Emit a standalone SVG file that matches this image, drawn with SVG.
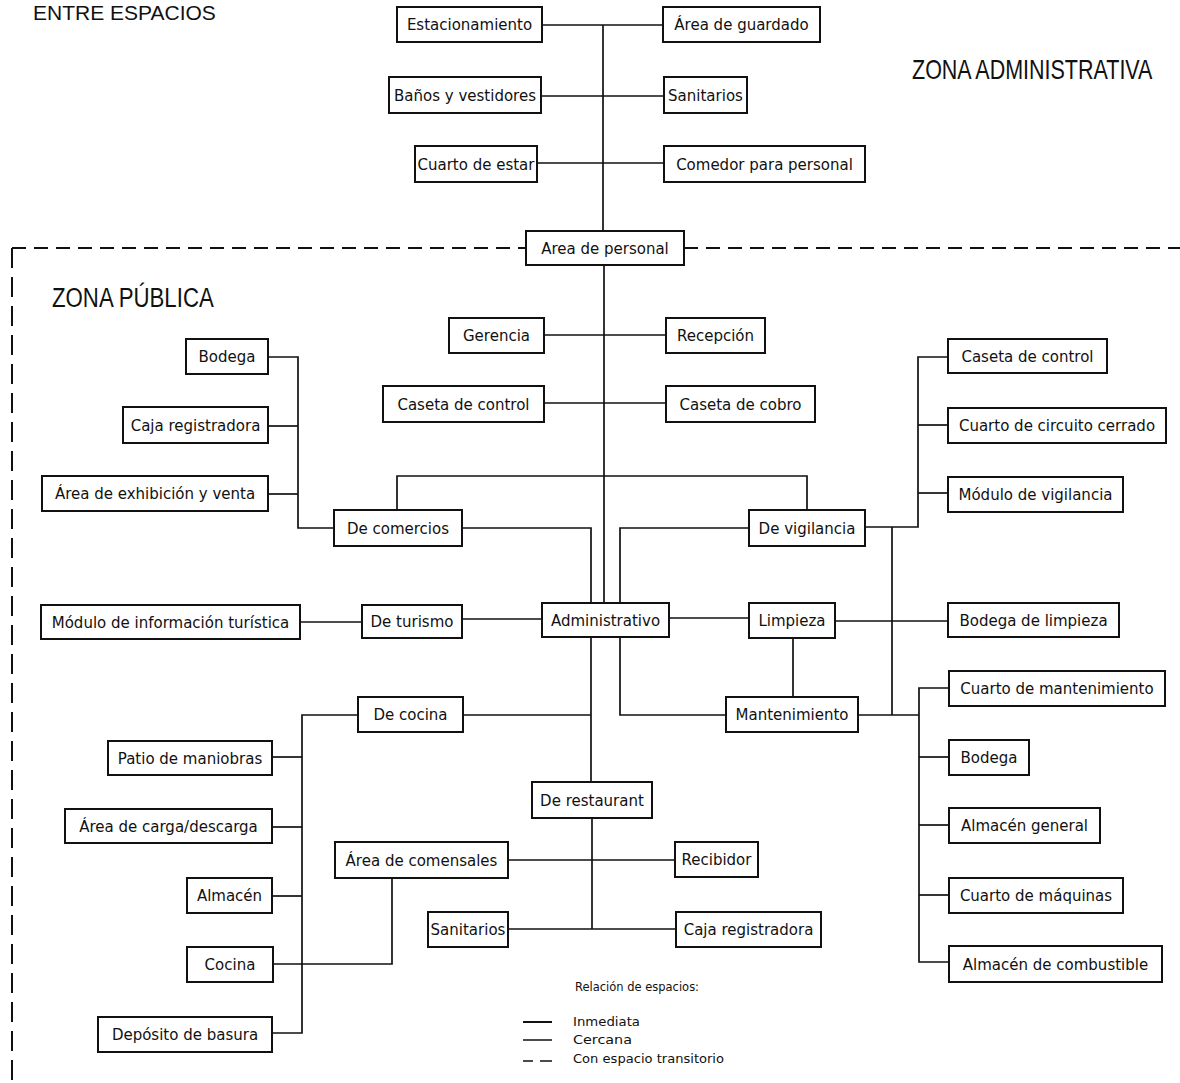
<svg xmlns="http://www.w3.org/2000/svg" width="1180" height="1083" viewBox="0 0 1180 1083">
  <style>
    .box { fill: #ffffff; stroke: #111111; stroke-width: 2; }
    .lbl { font-family: "DejaVu Sans", "Liberation Sans", sans-serif; font-size: 15px; fill: #111111; text-anchor: middle; }
    .title { font-family: "Liberation Sans", Arial, sans-serif; font-size: 28px; fill: #111111; }
    .legend { font-family: "DejaVu Sans", "Liberation Sans", sans-serif; font-size: 13px; fill: #111111; }
    .conn { fill: none; stroke: #111111; stroke-width: 1.7; }
    .zone { fill: none; stroke: #111111; stroke-width: 2; }
  </style>
  <rect width="1180" height="1083" fill="#ffffff"/>

  <!-- headings (narrowed horizontally) -->
  <text class="title" x="33" y="20" style="font-size:21px">ENTRE ESPACIOS</text>
  <text class="title" transform="translate(912,79) scale(0.768,1)">ZONA ADMINISTRATIVA</text>
  <text class="title" transform="translate(52,307) scale(0.794,1)">ZONA PÚBLICA</text>

  <!-- zone boundary -->
  <g id="zone-boundary">
    <path class="zone" d="M12 248 H526" stroke-dasharray="14 8"/>
    <path class="zone" d="M684 248 H1180" stroke-dasharray="14 8"/>
    <path class="zone" d="M12 248 V1083" stroke-dasharray="20 9"/>
  </g>

  <!-- connectors -->
  <g id="connectors">
    <!-- administrative trunk -->
    <path class="conn" d="M603 25 V231"/>
    <path class="conn" d="M542 25 H663"/>
    <path class="conn" d="M541 96 H664"/>
    <path class="conn" d="M537 163 H664"/>
    <!-- public trunk -->
    <path class="conn" d="M604 265 V603"/>
    <path class="conn" d="M544 335 H666"/>
    <path class="conn" d="M544 403 H666"/>
    <path class="conn" d="M397 510 V476 H807 V510"/>
    <!-- comercios branch -->
    <path class="conn" d="M268 357 H298 V528 H334"/>
    <path class="conn" d="M268 426 H298"/>
    <path class="conn" d="M268 494 H298"/>
    <path class="conn" d="M462 528 H591 V603"/>
    <!-- vigilancia branch -->
    <path class="conn" d="M749 528 H620 V603"/>
    <path class="conn" d="M865 527 H918 V357 H948"/>
    <path class="conn" d="M918 425 H948"/>
    <path class="conn" d="M918 493 H948"/>
    <path class="conn" d="M892 527 V715"/>
    <!-- turismo / limpieza row -->
    <path class="conn" d="M300 622 H362"/>
    <path class="conn" d="M462 619 H542"/>
    <path class="conn" d="M669 618 H749"/>
    <path class="conn" d="M835 621 H948"/>
    <path class="conn" d="M793 638 V697"/>
    <!-- mantenimiento branch -->
    <path class="conn" d="M620 637 V715 H726"/>
    <path class="conn" d="M858 715 H919"/>
    <path class="conn" d="M949 688 H919 V962 H949"/>
    <path class="conn" d="M919 757 H949"/>
    <path class="conn" d="M919 825 H949"/>
    <path class="conn" d="M919 895 H949"/>
    <!-- cocina / restaurant branch -->
    <path class="conn" d="M591 637 V782"/>
    <path class="conn" d="M463 715 H591"/>
    <path class="conn" d="M358 715 H302 V1033 H272"/>
    <path class="conn" d="M272 757 H302"/>
    <path class="conn" d="M272 827 H302"/>
    <path class="conn" d="M272 896 H302"/>
    <path class="conn" d="M273 964 H392 V878"/>
    <path class="conn" d="M592 818 V929"/>
    <path class="conn" d="M508 860 H675"/>
    <path class="conn" d="M508 929 H676"/>
  </g>

  <!-- administrative zone -->
  <g id="n-estacionamiento"><rect class="box" x="397" y="7" width="145" height="35"/><text class="lbl" x="469.5" y="30">Estacionamiento</text></g>
  <g id="n-area-guardado"><rect class="box" x="663" y="7" width="157" height="35"/><text class="lbl" x="741.5" y="30">Área de guardado</text></g>
  <g id="n-banos"><rect class="box" x="389" y="77" width="152" height="36"/><text class="lbl" x="465" y="100.5">Baños y vestidores</text></g>
  <g id="n-sanitarios-adm"><rect class="box" x="664" y="77" width="83" height="36"/><text class="lbl" x="705.5" y="100.5">Sanitarios</text></g>
  <g id="n-cuarto-estar"><rect class="box" x="415" y="146" width="122" height="36"/><text class="lbl" x="476" y="169.5">Cuarto de estar</text></g>
  <g id="n-comedor"><rect class="box" x="664" y="146" width="201" height="36"/><text class="lbl" x="764.5" y="169.5">Comedor para personal</text></g>
  <g id="n-area-personal"><rect class="box" x="526" y="231" width="158" height="34"/><text class="lbl" x="605" y="253.5">Area de personal</text></g>

  <!-- public zone -->
  <g id="n-gerencia"><rect class="box" x="449" y="318" width="95" height="35"/><text class="lbl" x="496.5" y="341">Gerencia</text></g>
  <g id="n-recepcion"><rect class="box" x="666" y="318" width="99" height="35"/><text class="lbl" x="715.5" y="341">Recepción</text></g>
  <g id="n-caseta-control"><rect class="box" x="383" y="386" width="161" height="36"/><text class="lbl" x="463.5" y="409.5">Caseta de control</text></g>
  <g id="n-caseta-cobro"><rect class="box" x="666" y="386" width="149" height="36"/><text class="lbl" x="740.5" y="409.5">Caseta de cobro</text></g>

  <g id="n-bodega-comercio"><rect class="box" x="186" y="339" width="82" height="35"/><text class="lbl" x="227" y="362">Bodega</text></g>
  <g id="n-caja-comercio"><rect class="box" x="123" y="407" width="145" height="36"/><text class="lbl" x="195.5" y="430.5">Caja registradora</text></g>
  <g id="n-exhibicion"><rect class="box" x="42" y="476" width="226" height="35"/><text class="lbl" x="155" y="499">Área de exhibición y venta</text></g>
  <g id="n-de-comercios"><rect class="box" x="334" y="510" width="128" height="36"/><text class="lbl" x="398" y="533.5">De comercios</text></g>

  <g id="n-de-vigilancia"><rect class="box" x="749" y="510" width="116" height="36"/><text class="lbl" x="807" y="533.5">De vigilancia</text></g>
  <g id="n-caseta-control-vig"><rect class="box" x="948" y="339" width="159" height="34"/><text class="lbl" x="1027.5" y="361.5">Caseta de control</text></g>
  <g id="n-circuito"><rect class="box" x="948" y="408" width="218" height="35"/><text class="lbl" x="1057" y="431">Cuarto de circuito cerrado</text></g>
  <g id="n-modulo-vigilancia"><rect class="box" x="948" y="477" width="175" height="35"/><text class="lbl" x="1035.5" y="500">Módulo de vigilancia</text></g>

  <g id="n-modulo-info"><rect class="box" x="41" y="605" width="259" height="34"/><text class="lbl" x="170.5" y="627.5">Módulo de información turística</text></g>
  <g id="n-de-turismo"><rect class="box" x="362" y="605" width="100" height="33"/><text class="lbl" x="412" y="627">De turismo</text></g>
  <g id="n-administrativo"><rect class="box" x="542" y="603" width="127" height="34"/><text class="lbl" x="605.5" y="625.5">Administrativo</text></g>
  <g id="n-limpieza"><rect class="box" x="749" y="603" width="86" height="35"/><text class="lbl" x="792" y="626">Limpieza</text></g>
  <g id="n-bodega-limpieza"><rect class="box" x="948" y="603" width="171" height="34"/><text class="lbl" x="1033.5" y="625.5">Bodega de limpieza</text></g>

  <g id="n-de-cocina"><rect class="box" x="358" y="697" width="105" height="35"/><text class="lbl" x="410.5" y="720">De cocina</text></g>
  <g id="n-mantenimiento"><rect class="box" x="726" y="697" width="132" height="35"/><text class="lbl" x="792" y="720">Mantenimiento</text></g>
  <g id="n-cuarto-mantenimiento"><rect class="box" x="949" y="671" width="216" height="35"/><text class="lbl" x="1057" y="694">Cuarto de mantenimiento</text></g>
  <g id="n-bodega-mant"><rect class="box" x="949" y="740" width="80" height="35"/><text class="lbl" x="989" y="763">Bodega</text></g>
  <g id="n-almacen-general"><rect class="box" x="949" y="808" width="151" height="35"/><text class="lbl" x="1024.5" y="831">Almacén general</text></g>
  <g id="n-cuarto-maquinas"><rect class="box" x="949" y="878" width="174" height="35"/><text class="lbl" x="1036" y="901">Cuarto de máquinas</text></g>
  <g id="n-almacen-combustible"><rect class="box" x="949" y="946" width="213" height="36"/><text class="lbl" x="1055.5" y="969.5">Almacén de combustible</text></g>

  <g id="n-patio"><rect class="box" x="108" y="741" width="164" height="34"/><text class="lbl" x="190" y="763.5">Patio de maniobras</text></g>
  <g id="n-carga"><rect class="box" x="65" y="809" width="207" height="34"/><text class="lbl" x="168.5" y="831.5">Área de carga/descarga</text></g>
  <g id="n-almacen"><rect class="box" x="187" y="878" width="85" height="35"/><text class="lbl" x="229.5" y="901">Almacén</text></g>
  <g id="n-cocina"><rect class="box" x="187" y="947" width="86" height="35"/><text class="lbl" x="230" y="970">Cocina</text></g>
  <g id="n-basura"><rect class="box" x="98" y="1017" width="174" height="35"/><text class="lbl" x="185" y="1040">Depósito de basura</text></g>

  <g id="n-de-restaurant"><rect class="box" x="532" y="782" width="120" height="36"/><text class="lbl" x="592" y="805.5">De restaurant</text></g>
  <g id="n-comensales"><rect class="box" x="335" y="842" width="173" height="36"/><text class="lbl" x="421.5" y="865.5">Área de comensales</text></g>
  <g id="n-recibidor"><rect class="box" x="675" y="842" width="83" height="35"/><text class="lbl" x="716.5" y="865">Recibidor</text></g>
  <g id="n-sanitarios-pub"><rect class="box" x="428" y="912" width="80" height="35"/><text class="lbl" x="468" y="935">Sanitarios</text></g>
  <g id="n-caja-restaurant"><rect class="box" x="676" y="912" width="145" height="35"/><text class="lbl" x="748.5" y="935">Caja registradora</text></g>

  <!-- legend -->
  <g id="legend">
    <text class="legend" x="575" y="991" textLength="124" lengthAdjust="spacingAndGlyphs">Relación de espacios:</text>
    <path d="M523 1022 H552" stroke="#111111" stroke-width="2"/>
    <text class="legend" x="573" y="1026" textLength="67" lengthAdjust="spacingAndGlyphs">Inmediata</text>
    <path d="M523 1040 H552" stroke="#111111" stroke-width="1.5"/>
    <text class="legend" x="573" y="1044" textLength="59" lengthAdjust="spacingAndGlyphs">Cercana</text>
    <path d="M523 1061 H533 M540 1061 H552" stroke="#111111" stroke-width="1.5"/>
    <text class="legend" x="573" y="1063" textLength="151" lengthAdjust="spacingAndGlyphs">Con espacio transitorio</text>
  </g>
</svg>
